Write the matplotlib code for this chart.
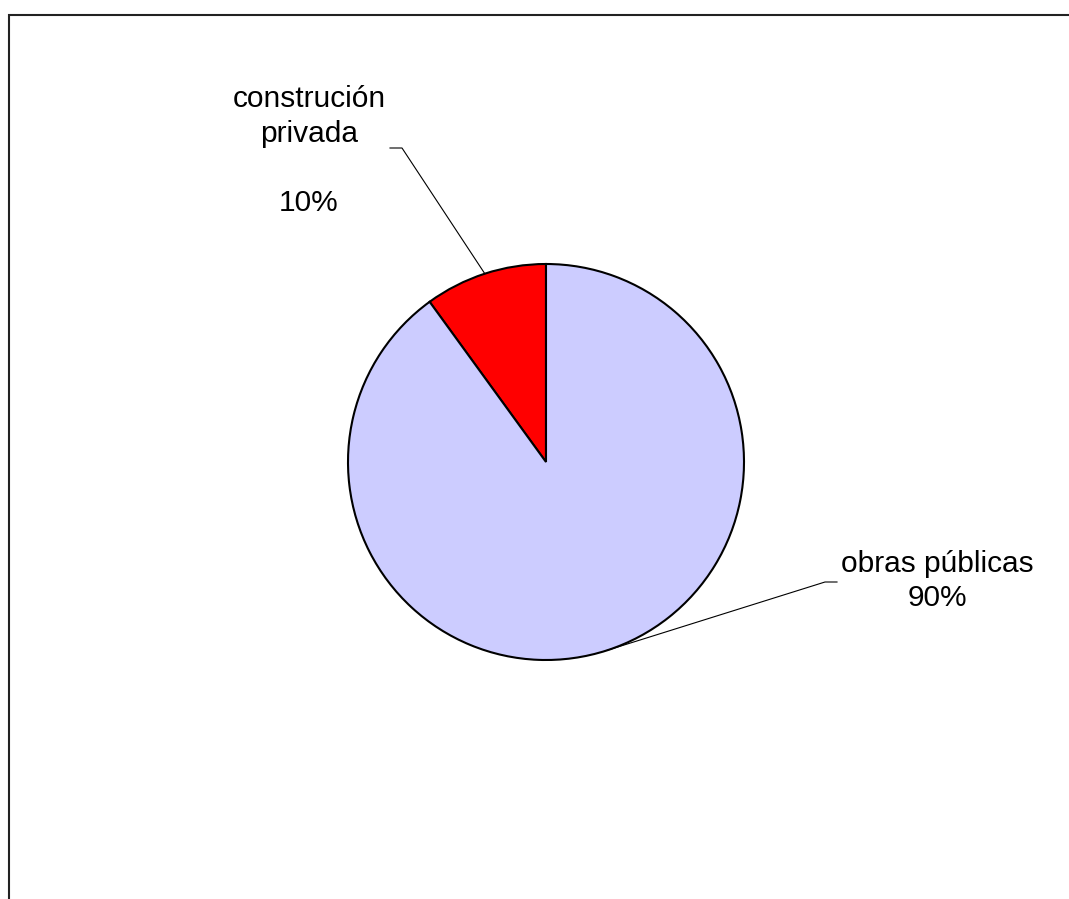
import numpy as np
import matplotlib
matplotlib.use("Agg")
import matplotlib.pyplot as plt
from matplotlib.patches import Rectangle

# -------------------- Data --------------------
labels = ["construción\nprivada", "obras públicas"]
shares = [10, 90]
colors = ["#FF0000", "#CCCCFF"]

W, H = 1069, 899
plt.rcParams['font.family'] = ['Liberation Sans', 'DejaVu Sans']

fig = plt.figure(figsize=(W / 100, H / 100), dpi=100)
ax = fig.add_axes([0, 0, 1, 1])

# pie drawn in pixel-like coordinates (y up)
cx, cy, r = 546, H - 462, 198
wedges, _ = ax.pie(shares, colors=colors, startangle=90, counterclock=True,
                   center=(cx, cy), radius=r,
                   wedgeprops=dict(edgecolor="black", linewidth=1.5))
ax.set_xlim(0, W)
ax.set_ylim(0, H)
ax.set_aspect('equal')
ax.axis('off')

# outer frame (runs off the right and bottom edges)
ax.add_patch(Rectangle((9, -20), W + 20, H - 15 + 20, fill=False,
                       edgecolor="#222222", linewidth=1.5, clip_on=False))

# leader lines + labels
elbows = [(402, H - 148), (825, H - 582)]
ends = [(390, H - 148), (837, H - 582)]
texts = [f"{labels[0]}\n\n{shares[0]}%", f"{labels[1]}\n{shares[1]}%"]
text_pos = [(309, H - 151), (937, H - 581)]
for w, el, en, t, tp in zip(wedges, elbows, ends, texts, text_pos):
    mid = np.deg2rad((w.theta1 + w.theta2) / 2)
    px, py = cx + r * np.cos(mid), cy + r * np.sin(mid)
    ax.plot([px, el[0], en[0]], [py, el[1], en[1]], color="black", linewidth=0.8)
    ax.text(tp[0], tp[1], t, ha="center", va="center", fontsize=21.5,
            linespacing=1.3, multialignment="center")

fig.savefig("out.png", dpi=100)
